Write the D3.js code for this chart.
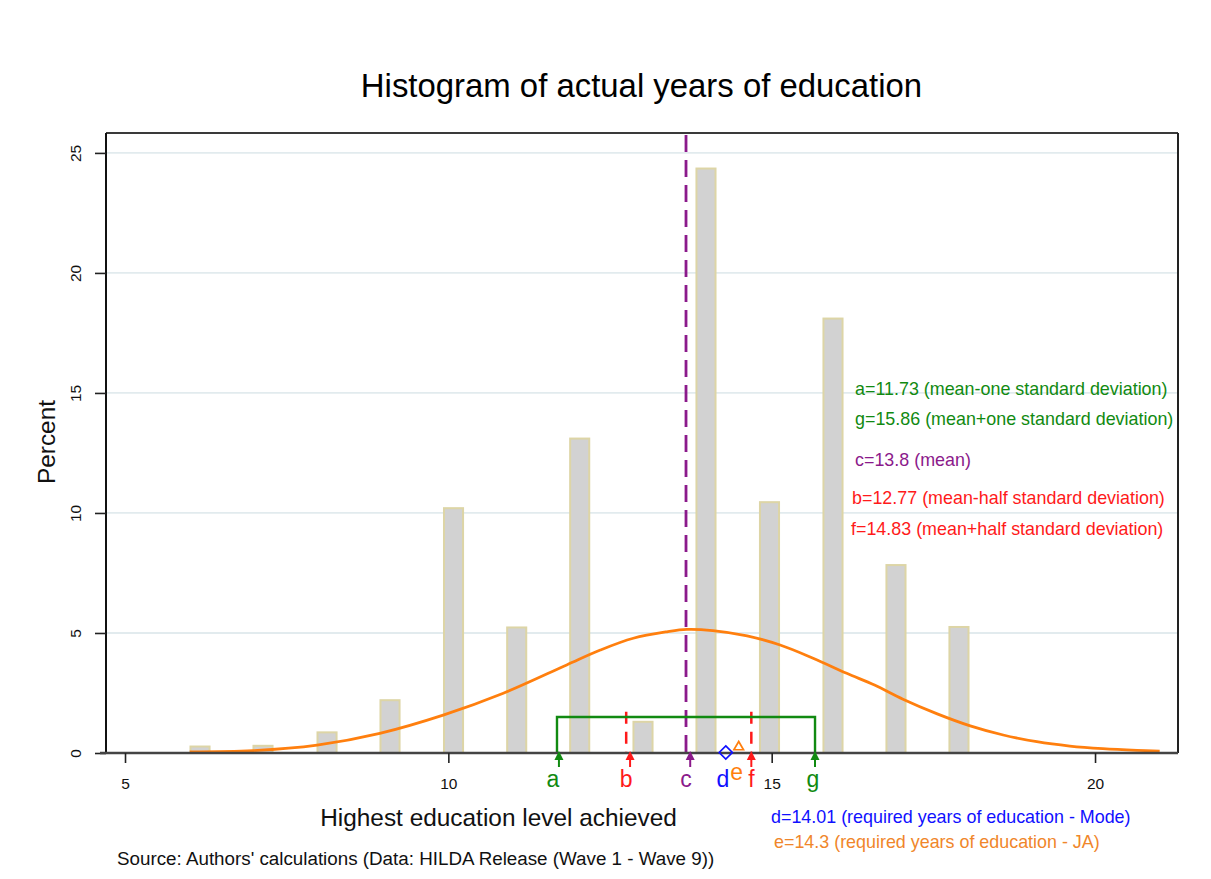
<!DOCTYPE html>
<html>
<head>
<meta charset="utf-8">
<script src="https://cdn.jsdelivr.net/npm/d3@7/dist/d3.min.js"></script>
<style>
  html, body { margin: 0; padding: 0; background: #ffffff; }
  svg { display: block; font-family: "Liberation Sans", Arial, Helvetica, sans-serif; }
</style>
</head>
<body>
<svg id="chart" width="1211" height="879"></svg>
<script>
// ---------- data ----------
const binCenters = [6.16, 7.134, 8.124, 9.098, 10.08, 11.057, 12.031, 13.01, 13.984, 14.966, 15.948, 16.922, 17.896];
const binPercents = [0.27, 0.30, 0.86, 2.2, 10.2, 5.23, 13.1, 1.3, 24.35, 10.45, 18.1, 7.83, 5.25];

const curveX = [6.0, 6.98, 7.97, 8.94, 9.92, 10.85, 11.83, 12.35, 12.86, 13.38, 13.69, 14.09, 14.62, 15.13, 15.64, 16.16, 16.59, 17.03, 17.56, 18.07, 18.58, 19.10, 19.61, 20.12, 20.65, 21.0];
const curveY = [0.05, 0.10, 0.33, 0.82, 1.58, 2.49, 3.67, 4.29, 4.78, 5.05, 5.15, 5.10, 4.88, 4.50, 3.95, 3.32, 2.83, 2.24, 1.63, 1.13, 0.75, 0.47, 0.29, 0.18, 0.11, 0.08];

const xTicks = [5, 10, 15, 20];
const yTicks = [0, 5, 10, 15, 20, 25];

const markerNames = ["a", "b", "c", "d", "e", "f", "g"];
const markerPos   = [11.68, 12.75, 13.675, 14.29, 14.49, 14.685, 15.67];
const arrowNames  = ["a", "b", "c", "f", "g"];
const arrowPos    = [11.71, 12.81, 13.74, 14.685, 15.67];
const bracketTop = 1.5;      // green one-SD bracket height (percent)
const halfSdTop = 1.72;      // red half-SD dashed lines height (percent)

const noteLines = [
  "a=11.73 (mean-one standard deviation)",
  "g=15.86 (mean+one standard deviation)",
  "c=13.8 (mean)",
  "b=12.77 (mean-half standard deviation)",
  "f=14.83 (mean+half standard deviation)",
  "d=14.01 (required years of education - Mode)",
  "e=14.3 (required years of education - JA)"
];

const titleText = "Histogram of actual years of education";
const xTitle = "Highest education level achieved";
const yTitle = "Percent";
const sourceText = "Source: Authors' calculations (Data: HILDA Release (Wave 1 - Wave 9))";

// ---------- styles ----------
const col = {
  green: "#118a11", purple: "#8b1a8b", red: "#ff1a1a", blue: "#1010ff", orange: "#ff7f0e",
  orangeText: "#f0862a", barFill: "#d2d2d2", barStroke: "#ddd5a6", grid: "#e2ebee"
};

const svg = d3.select("#chart");
svg.append("rect").attr("width", 1211).attr("height", 879).attr("fill", "#fff");

const L = 106, R = 1178, T = 133, B = 753;
const x = d3.scaleLinear().domain([4.706, 21.283]).range([L, R]);
const y = d3.scaleLinear().domain([0, 25.83]).range([B, T]);

// gridlines
svg.append("g").selectAll("line").data(yTicks.filter(d => d > 0)).join("line")
  .attr("x1", L).attr("x2", R).attr("y1", d => y(d)).attr("y2", d => y(d))
  .attr("stroke", col.grid).attr("stroke-width", 1.8);

// bars
const barW = 0.295;
svg.append("g").selectAll("rect").data(binCenters.map((c, i) => ({c, v: binPercents[i]}))).join("rect")
  .attr("x", d => x(d.c - barW / 2)).attr("width", x(barW) - x(0))
  .attr("y", d => y(d.v)).attr("height", d => y(0) - y(d.v))
  .attr("fill", col.barFill).attr("stroke", col.barStroke).attr("stroke-width", 2);

// normal curve
svg.append("path")
  .datum(curveX.map((cx, i) => [cx, curveY[i]]))
  .attr("d", d3.line().x(d => x(d[0])).y(d => y(d[1])).curve(d3.curveCatmullRom))
  .attr("fill", "none").attr("stroke", col.orange).attr("stroke-width", 2.8);

// mean dashed line (c)
const mi = (n) => markerPos[markerNames.indexOf(n)];
svg.append("line")
  .attr("x1", x(mi("c"))).attr("x2", x(mi("c"))).attr("y1", T + 2).attr("y2", y(0))
  .attr("stroke", col.purple).attr("stroke-width", 2.8).attr("stroke-dasharray", "17,8");

// half-SD red dashed lines
["b", "f"].forEach(n => {
  svg.append("line")
    .attr("x1", x(mi(n))).attr("x2", x(mi(n))).attr("y1", y(halfSdTop)).attr("y2", y(0))
    .attr("stroke", col.red).attr("stroke-width", 2.5).attr("stroke-dasharray", "12,8");
});

// one-SD green bracket
const bx1 = x(mi("a")), bx2 = x(mi("g"));
svg.append("path")
  .attr("d", `M${bx1},${y(0)}V${y(bracketTop)}H${bx2}V${y(0)}`)
  .attr("fill", "none").attr("stroke", col.green).attr("stroke-width", 2.4);

// frame
svg.append("line").attr("x1", L).attr("x2", R).attr("y1", T).attr("y2", T).attr("stroke", "#3a3a3a").attr("stroke-width", 2);
svg.append("line").attr("x1", R).attr("x2", R).attr("y1", T).attr("y2", B).attr("stroke", "#222").attr("stroke-width", 2);

// y axis
const yAxis = svg.append("g").attr("transform", `translate(${L},0)`)
  .call(d3.axisLeft(y).tickValues(yTicks).tickSize(11).tickFormat(d3.format("d")));
yAxis.attr("font-size", null).attr("font-family", null);
yAxis.select(".domain").attr("d", `M0,${T}V${B}`).attr("stroke", "#111").attr("stroke-width", 2);
yAxis.selectAll(".tick line").attr("stroke", "#222").attr("stroke-width", 1.6);
yAxis.selectAll(".tick text")
  .attr("x", null).attr("dy", null)
  .attr("transform", "translate(-25,0) rotate(-90)")
  .attr("text-anchor", "middle")
  .style("font-size", "15.5px").attr("fill", "#111");

// x axis
const xAxis = svg.append("g").attr("transform", `translate(0,${B})`)
  .call(d3.axisBottom(x).tickValues(xTicks).tickSize(10).tickFormat(d3.format("d")));
xAxis.attr("font-size", null).attr("font-family", null);
xAxis.select(".domain").attr("d", `M${L - 6},0H${R}`).attr("stroke", "#444").attr("stroke-width", 2.6);
xAxis.selectAll(".tick line").attr("stroke", "#222").attr("stroke-width", 1.6);
xAxis.selectAll(".tick text").attr("y", 36).attr("dy", null)
  .style("font-size", "15.5px").attr("fill", "#111");

// markers: diamond (d) and triangle (e)
svg.append("path")
  .attr("d", d3.symbol(d3.symbolDiamond2, 110)())
  .attr("transform", `translate(${x(mi("d"))},${y(0) - 0.5})`)
  .attr("fill", "none").attr("stroke", col.blue).attr("stroke-width", 1.7);
svg.append("path")
  .attr("d", d3.symbol(d3.symbolTriangle2, 66)())
  .attr("transform", `translate(${x(mi("e"))},${y(0) - 6})`)
  .attr("fill", "none").attr("stroke", col.orange).attr("stroke-width", 1.7);

// arrows
const arrowCol = { a: col.green, b: col.red, c: col.purple, f: col.red, g: col.green };
arrowNames.forEach((n, i) => {
  const ax = x(arrowPos[i]);
  const g = svg.append("g").attr("fill", arrowCol[n]).attr("stroke", arrowCol[n]);
  g.append("path").attr("d", `M${ax},${B - 2}L${ax - 4.5},${B + 7}L${ax + 4.5},${B + 7}Z`).attr("stroke", "none");
  g.append("line").attr("x1", ax).attr("x2", ax).attr("y1", B + 6).attr("y2", B + 14).attr("stroke-width", 2);
});

// marker letters
const letterCol = { a: col.green, b: col.red, c: col.purple, d: col.blue, e: col.orange, f: col.red, g: col.green };
const letterDx = { a: -4, b: 0, c: 0, d: -3, e: -2, f: 0, g: -2 };
markerNames.forEach((n, i) => {
  svg.append("text")
    .attr("x", x(markerPos[i]) + letterDx[n]).attr("y", n === "e" ? 780 : 787)
    .attr("text-anchor", "middle").attr("font-size", 23).attr("fill", letterCol[n])
    .text(n);
});

// annotations
const notePlace = [
  { x: 855, y: 395, c: col.green },
  { x: 855, y: 425, c: col.green },
  { x: 855, y: 466, c: col.purple },
  { x: 852, y: 503.5, c: col.red },
  { x: 851, y: 535, c: col.red },
  { x: 771, y: 822.5, c: col.blue },
  { x: 774, y: 848, c: col.orangeText }
];
noteLines.forEach((t, i) => {
  svg.append("text").attr("x", notePlace[i].x).attr("y", notePlace[i].y)
    .attr("font-size", 17.9).attr("fill", notePlace[i].c).text(t);
});

// titles
svg.append("text").attr("x", 641.5).attr("y", 97).attr("text-anchor", "middle")
  .attr("font-size", 32.9).attr("fill", "#000").text(titleText);
svg.append("text").attr("x", 498.5).attr("y", 826).attr("text-anchor", "middle")
  .attr("font-size", 24.4).attr("fill", "#111").text(xTitle);
svg.append("text").attr("transform", "translate(55,442) rotate(-90)").attr("text-anchor", "middle")
  .attr("font-size", 24.4).attr("fill", "#111").text(yTitle);
svg.append("text").attr("x", 117).attr("y", 865)
  .attr("font-size", 18.8).attr("fill", "#111").text(sourceText);
</script>
</body>
</html>
